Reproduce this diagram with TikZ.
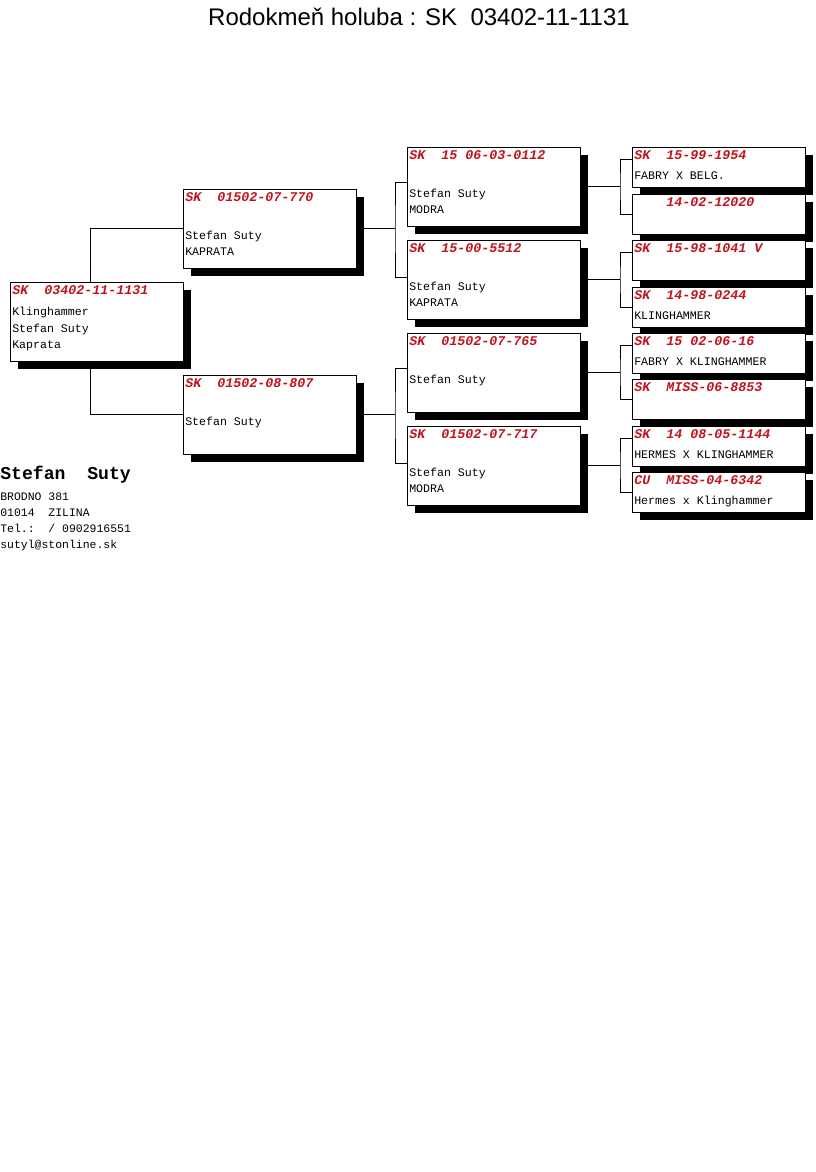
\documentclass[tikz,border=0pt]{standalone}
\usepackage{fontspec}
\setmainfont{Liberation Sans}
\newfontfamily\pmono{Liberation Mono}
\usetikzlibrary{calc,shadows}
\pgfdeclarelayer{bg}
\pgfsetlayers{bg,main}
\definecolor{ringred}{RGB}{192,20,30}

\begin{document}
\begin{tikzpicture}[x=0.75pt,y=-0.75pt,
  pbox/.style={draw, fill=white, line width=0.75pt, inner sep=0pt, outer sep=0pt,
    anchor=north west, minimum width=129.75pt,
    drop shadow={shadow xshift=6pt, shadow yshift=-6pt, fill=black, opacity=1}},
  tall/.style={pbox, minimum height=59.25pt},
  low/.style={pbox, minimum height=30pt},
  ring/.style={anchor=west, inner sep=0pt, text=ringred,
    font=\pmono\bfseries\itshape\fontsize{10}{12}\selectfont},
  info/.style={anchor=north west, inner sep=0pt, align=left,
    font=\pmono\fontsize{8.7}{12.4}\selectfont},
  link/.style={line width=0.75pt}]
\useasboundingbox (0,0) rectangle (816,1172);

% title
\node[font=\fontsize{18}{22}\selectfont] (title) at (419,17) {Rodokmeň holuba : SK\ \ 03402-11-1131};

% --- bird, parents, grandparents ---
\foreach \n/\x/\y/\bnum/\btext in {
  g1/10/282/SK\ \ 03402-11-1131/Klinghammer\\Stefan Suty\\Kaprata,
  s/183/189/SK\ \ 01502-07-770/\\Stefan Suty\\KAPRATA,
  d/183/375/SK\ \ 01502-08-807/\\Stefan Suty,
  ss/407/147/SK\ \ 15 06-03-0112/\\Stefan Suty\\MODRA,
  sd/407/240/SK\ \ 15-00-5512/\\Stefan Suty\\KAPRATA,
  ds/407/333/SK\ \ 01502-07-765/\\Stefan Suty,
  dd/407/426/SK\ \ 01502-07-717/\\Stefan Suty\\MODRA}
{
  \node[tall] (\n) at (\x,\y) {};
  \node[ring] (\n-ring) at (\x+2,\y+8) {\bnum};
  \node[info] (\n-info) at (\x+2,\y+22) {\strut\btext};
}

% --- great-grandparents ---
\foreach \n/\y/\bnum/\btext in {
  sss/147/SK\ \ 15-99-1954/FABRY X BELG.,
  ssd/194/\phantom{SK}\ \ 14-02-12020/{},
  sds/240/SK\ \ 15-98-1041 V/{},
  sdd/287/SK\ \ 14-98-0244/KLINGHAMMER,
  dss/333/SK\ \ 15 02-06-16/FABRY X KLINGHAMMER,
  dsd/379/SK\ \ MISS-06-8853/{},
  dds/426/SK\ \ 14 08-05-1144/HERMES X KLINGHAMMER,
  ddd/472/CU\ \ MISS-04-6342/Hermes x Klinghammer}
{
  \node[low] (\n) at (632,\y) {};
  \node[ring] (\n-ring) at (634,\y+8) {\bnum};
  \node[info] (\n-info) at (634,\y+21) {\strut\btext};
}

% --- connectors ---
\begin{pgfonlayer}{bg}
\draw[link] (s.west) -- ++(-93,0) |- (d.west);
\foreach \pa/\ca/\cb in {s/ss/sd, d/ds/dd} {
  \draw[link] ($(\pa.east)+(8,0)$) -- ($(\pa.east)+(39,0)$);
  \draw[link] ($(\ca.north west)+(0,35)$) -| ($(\pa.east)+(39,0)$) |- ($(\cb.north west)+(0,37)$);
}
\foreach \pa/\ca/\cb in {ss/sss/ssd, sd/sds/sdd, ds/dss/dsd, dd/dds/ddd} {
  \draw[link] ($(\pa.east)+(8,0)$) -- ($(\pa.east)+(40,0)$);
  \draw[link] ($(\ca.north west)+(0,12)$) -| ($(\pa.east)+(40,0)$) |- (\cb.west);
}
\end{pgfonlayer}

% owner
\node[anchor=west, inner sep=0pt, font=\pmono\bfseries\fontsize{13.6}{16}\selectfont] (owner) at (0,475) {Stefan\ \ Suty};
\node[anchor=north west, inner sep=0pt, align=left, font=\pmono\fontsize{8.6}{12}\selectfont] (address) at (0,489)
  {\strut BRODNO 381\\01014\ \ ZILINA\\Tel.:\ \ / 0902916551\\sutyl@stonline.sk};
\end{tikzpicture}
\end{document}
